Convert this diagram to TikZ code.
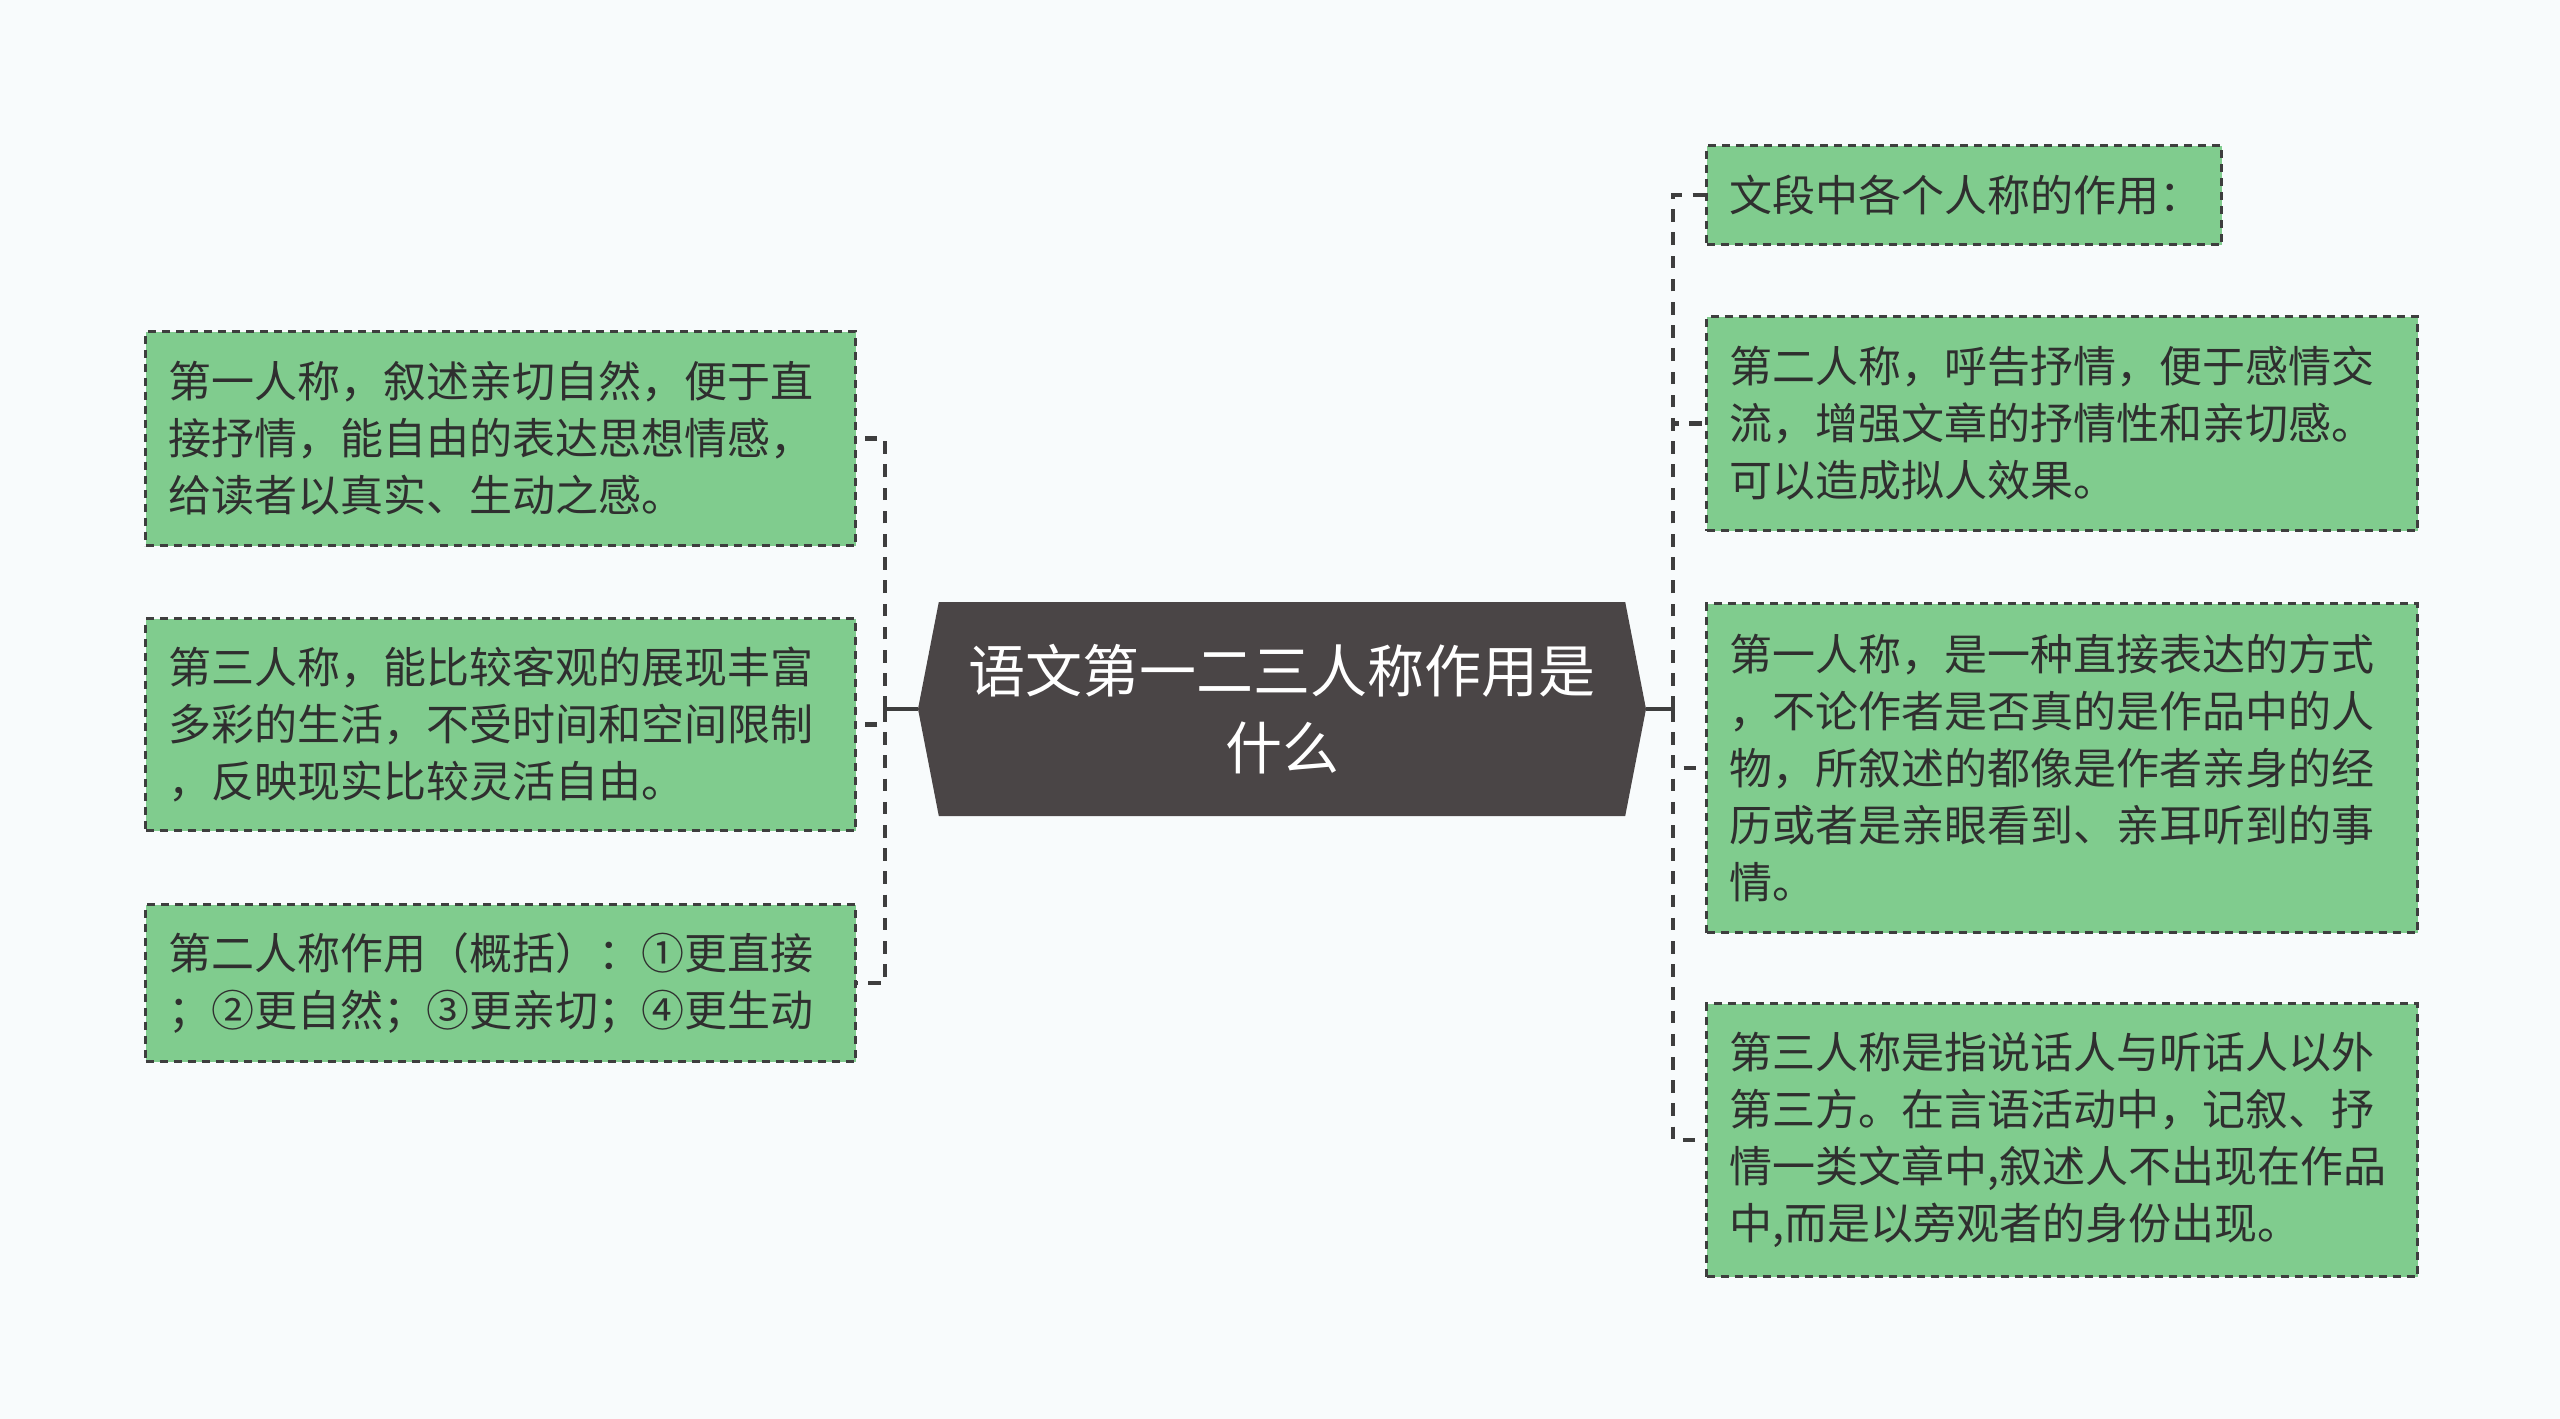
\documentclass[tikz,border=0pt]{standalone}
\usepackage{fontspec}
\newfontfamily\cjk{Noto Sans CJK SC}
\usetikzlibrary{shapes.symbols}

\definecolor{bgcol}{HTML}{F8FBFC}
\definecolor{leafgreen}{HTML}{80CC8E}
\definecolor{rimgray}{HTML}{3E3E3E}
\definecolor{inkgray}{HTML}{2F2F2F}
\definecolor{hubgray}{HTML}{4A4546}

\tikzset{
  leaf/.style={draw=rimgray, line width=1.5pt, dash pattern=on 4pt off 3pt,
    fill=leafgreen, text=inkgray, font=\cjk\fontsize{21.5pt}{28.5pt}\selectfont,
    align=left, anchor=north west, inner xsep=11.5pt, inner ysep=0pt},
  hub/.style={signal, signal to=west and east, signal pointer angle=158,
    fill=hubgray, text=white, font=\cjk\fontsize{28.5pt}{38.5pt}\selectfont,
    align=center, minimum width=364pt, minimum height=107pt, inner sep=0pt},
  link/.style={draw=rimgray, line width=2.3pt, dash pattern=on 6.3pt off 5.3pt},
  trunk/.style={draw=rimgray, line width=2.2pt}
}

\begin{document}
\begin{tikzpicture}
    \path[use as bounding box, fill=bgcol] (0,0) rectangle (1280pt,-709.5pt);

    \node[hub] (root) at (641pt,-354.5pt) {语文第一二三人称作用是\\什么};

    % left side
    \node[leaf, text width=332pt, minimum height=107pt] (first) at (72pt,-165pt)
        {第一人称，叙述亲切自然，便于直\\接抒情，能自由的表达思想情感，\\给读者以真实、生动之感。};
    \node[leaf, text width=332pt, minimum height=106pt] (third) at (72pt,-308.5pt)
        {第三人称，能比较客观的展现丰富\\多彩的生活，不受时间和空间限制\\，反映现实比较灵活自由。};
    \node[leaf, text width=332pt, minimum height=78.5pt] (second) at (72pt,-451.5pt)
        {第二人称作用（概括）：①更直接\\；②更自然；③更亲切；④更生动};

    % right side
    \node[leaf, text width=234.5pt, minimum height=49.5pt] (intro) at (852.5pt,-72pt)
        {文段中各个人称的作用：};
    \node[leaf, text width=332.5pt, minimum height=107pt] (secondr) at (852.5pt,-157.5pt)
        {第二人称，呼告抒情，便于感情交\\流，增强文章的抒情性和亲切感。\\可以造成拟人效果。};
    \node[leaf, text width=332.5pt, minimum height=164.5pt] (firstr) at (852.5pt,-301pt)
        {第一人称，是一种直接表达的方式\\，不论作者是否真的是作品中的人\\物，所叙述的都像是作者亲身的经\\历或者是亲眼看到、亲耳听到的事\\情。};
    \node[leaf, text width=332.5pt, minimum height=136.5pt] (thirdr) at (852.5pt,-501pt)
        {第三人称是指说话人与听话人以外\\第三方。在言语活动中，记叙、抒\\情一类文章中,叙述人不出现在作品\\中,而是以旁观者的身份出现。};

    \coordinate (lbus) at (442.5pt,-354.5pt);
    \coordinate (rbus) at (836.5pt,-354.5pt);

    \draw[trunk] (root.west) -- (lbus);
    \draw[trunk] (root.east) -- (rbus);
    \foreach \n in {first, third, second}
        \draw[link] (lbus) |- (\n.east);
    \foreach \n in {intro, secondr, firstr, thirdr}
        \draw[link] (rbus) |- (\n.west);
\end{tikzpicture}
\end{document}
